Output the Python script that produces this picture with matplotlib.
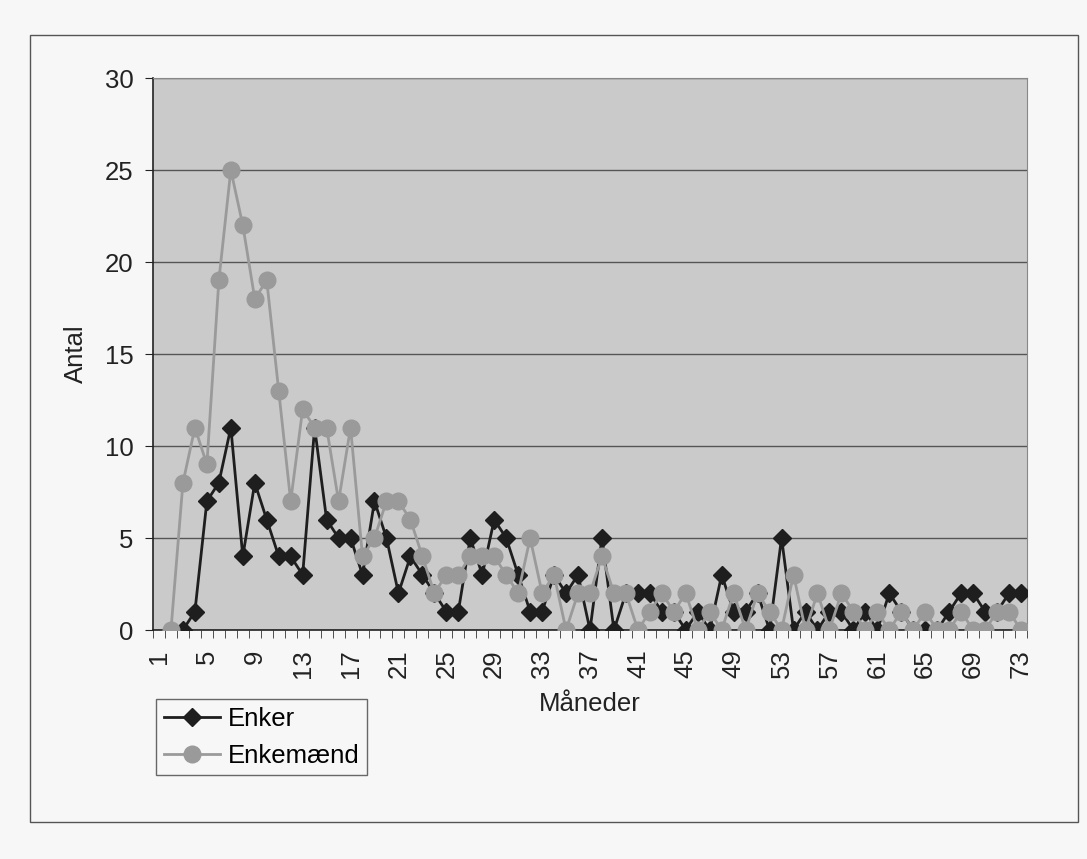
import numpy as np
import matplotlib
matplotlib.use('Agg')
import matplotlib.pyplot as plt
from matplotlib.patches import Rectangle

plt.rcParams['font.family'] = ['Liberation Sans', 'DejaVu Sans']

# data (month 1..73), nan = no point
nan = np.nan
months = list(range(1, 74))
enker = [nan, nan, 0, 1, 7, 8, 11, 4, 8, 6,
         4, 4, 3, 11, 6, 5, 5, 3, 7, 5,
         2, 4, 3, 2, 1, 1, 5, 3, 6, 5,
         3, 1, 1, 3, 2, 3, 0, 5, 0, 2,
         2, 2, 1, 1, 0, 1, 0, 3, 1, 1,
         2, 0, 5, 0, 1, 0, 1, 1, 0, 1,
         0, 2, 1, 0, 0, 0, 1, 2, 2, 1,
         1, 2, 2]
enkemaend = [nan, 0, 8, 11, 9, 19, 25, 22, 18, 19,
             13, 7, 12, 11, 11, 7, 11, 4, 5, 7,
             7, 6, 4, 2, 3, 3, 4, 4, 4, 3,
             2, 5, 2, 3, 0, 2, 2, 4, 2, 2,
             0, 1, 2, 1, 2, 0, 1, 0, 2, 0,
             2, 1, 0, 3, 0, 2, 0, 2, 1, 0,
             1, 0, 1, 0, 1, 0, 0, 1, 0, 0,
             1, 1, 0]
yticks = [0, 5, 10, 15, 20, 25, 30]
xtick_labels = list(range(1, 74, 4))

fs = 18.5
txt = '#222222'

fig = plt.figure(figsize=(10.87, 8.59), dpi=100)
fig.patch.set_facecolor('#f7f7f7')

# outer chart border
fig.add_artist(Rectangle((30 / 1087, 1 - 822 / 859), 1048 / 1087, 787 / 859,
                         transform=fig.transFigure, fill=False,
                         edgecolor='#555555', linewidth=1))

ax = fig.add_axes([153 / 1087, 1 - 630 / 859, 874 / 1087, 552 / 859])
ax.set_facecolor('#cacaca')

ax.plot(months, enker, color='#1e1e1e', linewidth=2, marker='D',
        markersize=9.5, markerfacecolor='#1e1e1e', markeredgecolor='#1e1e1e',
        label='Enker', zorder=3)
ax.plot(months, enkemaend, color='#9a9a9a', linewidth=2, marker='o',
        markersize=12, markerfacecolor='#9a9a9a', markeredgecolor='#9a9a9a',
        label='Enkemænd', zorder=4)

ax.set_xlim(0.5, 73.5)
ax.set_ylim(0, 30)
ax.set_yticks(yticks)
ax.set_xticks(xtick_labels)
ax.set_xticklabels([str(v) for v in xtick_labels], rotation=90)
ax.set_xticks(np.arange(0.5, 74, 1), minor=True)
ax.tick_params(axis='x', which='major', length=0, pad=14, labelsize=fs, colors=txt)
ax.tick_params(axis='x', which='minor', length=6, color='#333333')
ax.tick_params(axis='y', length=6, pad=8, labelsize=fs, colors=txt)

ax.grid(axis='y', color='#555555', linewidth=1)
ax.set_axisbelow(True)
for side in ['top', 'right']:
    ax.spines[side].set_color('#888888')
    ax.spines[side].set_linewidth(0.8)
for side in ['left', 'bottom']:
    ax.spines[side].set_color('#222222')
    ax.spines[side].set_linewidth(1.2)

ax.set_ylabel('Antal', fontsize=fs, color=txt, labelpad=12)
ax.set_xlabel('Måneder', fontsize=fs, color=txt, labelpad=10)

leg = ax.legend(loc='upper left', bbox_to_anchor=(156 / 1087, 1 - 699 / 859),
                bbox_transform=fig.transFigure, borderaxespad=0,
                fontsize=fs, frameon=True, fancybox=False,
                edgecolor='#444444', facecolor='#f7f7f7',
                handlelength=2.2, borderpad=0.3, labelspacing=0.5,
                handletextpad=0.3)
leg.get_frame().set_linewidth(1)

fig.savefig('out.png', dpi=100, facecolor=fig.get_facecolor())
